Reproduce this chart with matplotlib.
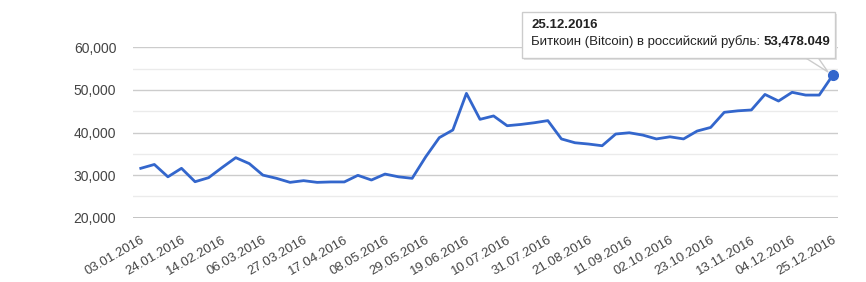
import matplotlib.pyplot as plt
import matplotlib.patches as mpatches
import matplotlib.dates as mdates
import pandas as pd
import numpy as np

plt.rcParams['font.family'] = ['Liberation Sans', 'DejaVu Sans']

# weekly values, RUB per BTC
dates = pd.date_range('2016-01-03', periods=52, freq='7D')
values = [31600, 32500, 29600, 31600, 28450, 29400, 31800, 34100, 32700, 30000,
          29250, 28300, 28700, 28300, 28400, 28400, 29950, 28850, 30250, 29600,
          29250, 34300, 38800, 40600, 49200, 43100, 43900, 41600, 41900, 42300,
          42800, 38500, 37600, 37300, 36900, 39650, 39950, 39400, 38500, 39000,
          38500, 40350, 41200, 44750, 45100, 45300, 48950, 47400, 49450, 48800,
          48800, 53478.049]
tick_labels = ['03.01.2016', '24.01.2016', '14.02.2016', '06.03.2016', '27.03.2016',
               '17.04.2016', '08.05.2016', '29.05.2016', '19.06.2016', '10.07.2016',
               '31.07.2016', '21.08.2016', '11.09.2016', '02.10.2016', '23.10.2016',
               '13.11.2016', '04.12.2016', '25.12.2016']
y_ticks = [20000, 30000, 40000, 50000, 60000]
series_name = 'Биткоин (Bitcoin) в российский рубль'

blue = '#3366cc'
fig = plt.figure(figsize=(8.66, 2.82), dpi=100)
ax = fig.add_axes([0.1536, 0.228, 0.8141, 0.604])

ax.plot(dates, values, color=blue, lw=2, solid_joinstyle='round', zorder=3)
ax.plot(dates[-1:], values[-1:], 'o', color=blue, ms=7, zorder=4)

ax.set_ylim(20000, 60000)
ax.set_xlim(dates[0] - pd.Timedelta(days=4), dates[-1] + pd.Timedelta(days=2.7))
ax.set_yticks(y_ticks)
ax.set_yticklabels([f'{v:,}' for v in y_ticks])
ax.set_yticks(np.arange(25000, 60000, 10000), minor=True)
ax.grid(True, which='major', axis='y', color='#cccccc', lw=1)
ax.grid(True, which='minor', axis='y', color='#ebebeb', lw=1)
ax.axhline(20000, color='#bbbbbb', lw=1.2, zorder=2)

tick_pos = dates[::3]
ax.set_xticks(tick_pos)
ax.set_xticklabels(tick_labels, rotation=30, ha='right', rotation_mode='anchor')
ax.tick_params(axis='x', length=0, pad=12, labelsize=9.5, labelcolor='#444444')
ax.tick_params(axis='y', which='both', length=0, pad=12, labelsize=10, labelcolor='#444444')
for s in ax.spines.values():
    s.set_visible(False)

# tooltip
W, H = 866, 282
def fx(px): return px / W
def fy(py): return 1 - py / H
shadow = mpatches.Rectangle((fx(524), fy(60)), fx(835) - fx(522), fy(12) - fy(58),
                            transform=fig.transFigure, fc='#e4e4e4', ec='none', zorder=5)
box = mpatches.Rectangle((fx(522), fy(58)), fx(835) - fx(522), fy(12) - fy(58),
                         transform=fig.transFigure, fc='white', ec='#cccccc', lw=1, zorder=6)
tail = mpatches.Polygon([(fx(805), fy(57.5)), (fx(828), fy(72)), (fx(818), fy(57.5))],
                        closed=True, transform=fig.transFigure, fc='white', ec='#cccccc', lw=1, zorder=6)
fig.patches.extend([shadow, tail, box])
fig.text(fx(531), fy(25), dates[-1].strftime('%d.%m.%Y'), fontsize=9.5, fontweight='bold',
         color='#222222', va='center', zorder=7)
t = fig.text(fx(531), fy(42), series_name + ': ', fontsize=9.5, color='#222222', va='center', zorder=7)
fig.canvas.draw()
bb = t.get_window_extent()
fig.text(bb.x1 / W, fy(42), f'{values[-1]:,.3f}', fontsize=9.5, fontweight='bold',
         color='#222222', va='center', zorder=7)

fig.savefig('out.png', dpi=100)
